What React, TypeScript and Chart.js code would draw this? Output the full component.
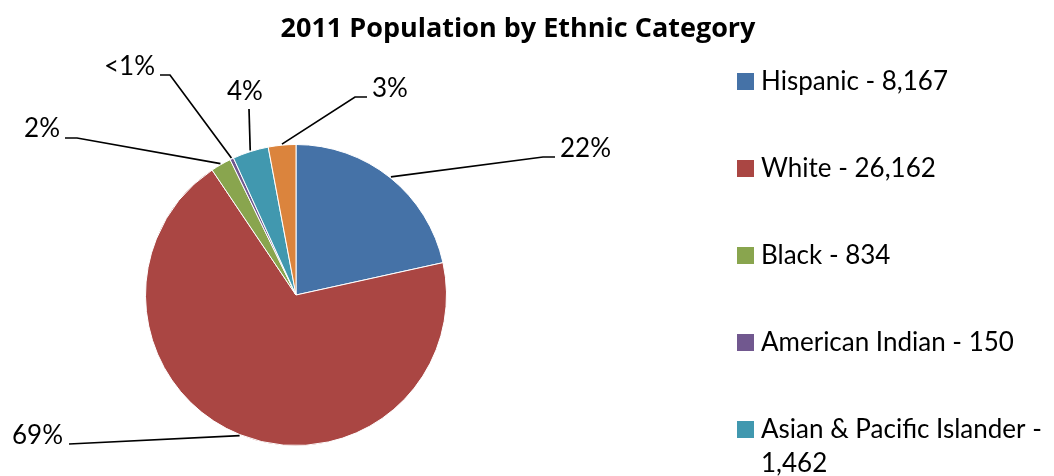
import React, { useEffect, useRef } from "react";
import { Chart, registerables } from "chart.js";

Chart.register(...registerables);

const chartTitle = "2011 Population by Ethnic Category";
const categories = [
  "Hispanic",
  "White",
  "Black",
  "American Indian",
  "Asian & Pacific Islander",
  "Other",
];
const populations = [8167, 26162, 834, 150, 1462, 1120];
const sliceColors = ["#4572A7", "#AA4643", "#89A54E", "#71588F", "#4198AF", "#DB843D"];

// leader-line layout, offsets relative to pie centre (styling/positioning only)
const labelLayout = [
  { elbow: [247, -138], end: [259, -138], text: [264, -138], align: "left" },
  { elbow: [-227, 149], end: [-227, 149], text: [-233, 149], align: "right" },
  { elbow: [-219, -157], end: [-231, -157], text: [-236, -158], align: "right" },
  { elbow: [-126, -220], end: [-136, -220], text: [-141, -220], align: "right" },
  { elbow: [-47, -186], end: [-47, -186], text: [-51, -195], align: "center" },
  { elbow: [59, -198], end: [71, -198], text: [76, -198], align: "left" },
];

const FONT = "Lato, 'Open Sans', sans-serif";
const TITLE_FONT = "'Open Sans', Lato, sans-serif";

const pctLabel = (v: number, total: number) => {
  const p = (v / total) * 100;
  if (p < 1) return "<1%";
  return Math.round(p) + "%";
};

const overlayPlugin = {
  id: "overlay",
  afterDraw(chart: any) {
    const ctx = chart.ctx as CanvasRenderingContext2D;
    const meta = chart.getDatasetMeta(0);
    const total = populations.reduce((a, b) => a + b, 0);
    ctx.save();

    // title
    ctx.fillStyle = "#000";
    ctx.font = `bold 27px ${TITLE_FONT}`;
    ctx.textAlign = "center";
    ctx.textBaseline = "alphabetic";
    ctx.fillText(chartTitle, 518, 37);

    // leader lines & labels
    ctx.font = `26px ${FONT}`;
    meta.data.forEach((arc: any, i: number) => {
      const lay = labelLayout[i];
      const cx = arc.x;
      const cy = arc.y;
      const mid = (arc.startAngle + arc.endAngle) / 2;
      const r = arc.outerRadius + 1;
      const sx = cx + Math.cos(mid) * r;
      const sy = cy + Math.sin(mid) * r;
      ctx.strokeStyle = "#000";
      ctx.lineWidth = 1.7;
      ctx.beginPath();
      ctx.moveTo(sx, sy);
      ctx.lineTo(cx + lay.elbow[0], cy + lay.elbow[1]);
      ctx.lineTo(cx + lay.end[0], cy + lay.end[1]);
      ctx.stroke();
      ctx.fillStyle = "#000";
      ctx.textAlign = lay.align as CanvasTextAlign;
      ctx.textBaseline = "alphabetic";
      ctx.fillText(pctLabel(populations[i], total), cx + lay.text[0], cy + lay.text[1]);
    });

    // legend
    const lx = 737;
    const ly0 = 73;
    const step = 87;
    const maxW = 290;
    ctx.font = `26px ${FONT}`;
    ctx.textAlign = "left";
    categories.forEach((cat, i) => {
      const y = ly0 + i * step;
      ctx.fillStyle = sliceColors[i];
      ctx.fillRect(lx, y, 17, 17);
      const text = `${cat} - ${populations[i].toLocaleString("en-US")}`;
      const words = text.split(" ");
      const lines: string[] = [];
      let cur = "";
      words.forEach((w) => {
        const test = cur ? cur + " " + w : w;
        if (ctx.measureText(test).width > maxW && cur) {
          lines.push(cur);
          cur = w;
        } else cur = test;
      });
      if (cur) lines.push(cur);
      ctx.fillStyle = "#000";
      lines.forEach((ln, k) => ctx.fillText(ln, lx + 24, y + 17 + k * 34));
    });
    ctx.restore();
  },
};

export default function App() {
  const ref = useRef<HTMLCanvasElement | null>(null);
  useEffect(() => {
    document.body.style.margin = "0";
    const canvas = ref.current!;
    const chart = new Chart(canvas, {
      type: "pie",
      data: {
        labels: categories,
        datasets: [
          {
            data: populations,
            backgroundColor: sliceColors,
            borderColor: "#ffffff",
            borderWidth: 1,
          },
        ],
      },
      options: {
        responsive: false,
        animation: false,
        layout: { padding: { left: 145, right: 607, top: 144, bottom: 30 } },
        plugins: {
          legend: { display: false },
          title: { display: false },
          tooltip: { enabled: false },
        },
      },
      plugins: [overlayPlugin],
    });
    return () => chart.destroy();
  }, []);
  return (
    <div style={{ width: 1054, height: 476, background: "#fff" }}>
      <canvas ref={ref} width={1054} height={476} style={{ display: "block" }} />
    </div>
  );
}
